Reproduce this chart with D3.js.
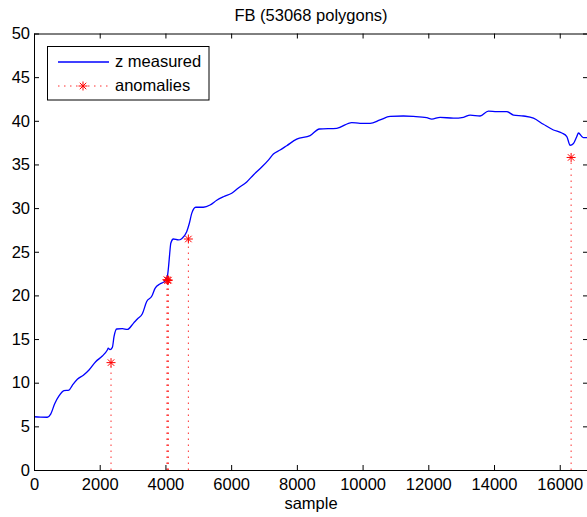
<!DOCTYPE html>
<html>
<head>
<meta charset="utf-8">
<script src="https://cdn.jsdelivr.net/npm/d3@7"></script>
<style>
  body { margin: 0; background: #fff; }
  svg { display: block; font-family: 'Liberation Sans', Arial, Helvetica, sans-serif; }
</style>
</head>
<body>
<div id="chart"></div>
<script>
// z measured
const sampleX = [0, 200, 405, 508, 630, 761, 913, 1065, 1167, 1319, 1502, 1674, 1877, 2080,
  2232, 2260, 2313, 2385, 2435, 2516, 2690, 2842, 3024, 3146, 3298, 3430, 3583, 3684, 3830,
  3937, 4000, 4060, 4100, 4130, 4165, 4241, 4393, 4495, 4647, 4728, 4800, 4922, 5155, 5358,
  5561, 5764, 6017, 6220, 6474, 6677, 6931, 7133, 7285, 7489, 7692, 7996, 8402, 8685, 9214,
  9670, 9923, 10228, 10532, 10837, 11241, 11546, 11952, 12105, 12359, 12764, 13069, 13272,
  13576, 13829, 14084, 14389, 14592, 14896, 15200, 15504, 15808, 16063, 16215, 16316, 16418,
  16520, 16571, 16672, 16723, 16900];
const zMeasured = [6.1, 6.05, 6.04, 6.4, 7.6, 8.5, 9.1, 9.16, 9.7, 10.4, 10.85, 11.45, 12.4, 13.06,
  13.75, 13.95, 13.8, 14.05, 15.27, 16.15, 16.2, 16.1, 16.8, 17.3, 17.9, 19.3, 19.9, 20.8, 21.3,
  21.5, 21.7, 22.2, 23.5, 24.8, 26.0, 26.46, 26.35, 26.5, 27.3, 28.26, 29.4, 30.1, 30.1, 30.35,
  30.9, 31.3, 31.7, 32.3, 33.0, 33.8, 34.7, 35.5, 36.2, 36.65, 37.15, 37.9, 38.3, 39.06, 39.14,
  39.8, 39.7, 39.7, 40.1, 40.5, 40.55, 40.5, 40.36, 40.2, 40.4, 40.3, 40.4, 40.66,
  40.55, 41.1, 41.05, 41.05, 40.66, 40.55, 40.3, 39.6, 38.95, 38.6, 38.2, 37.2, 37.4,
  38.2, 38.6, 38.2, 38.07, 38.07];

// anomalies
const anomalyX = [2344, 4045, 4068, 4090, 4698, 16346];
const anomalyZ = [12.3, 21.8, 21.7, 21.75, 26.46, 35.8];

const xTicks = [0, 2000, 4000, 6000, 8000, 10000, 12000, 14000, 16000];
const yTicks = [0, 5, 10, 15, 20, 25, 30, 35, 40, 45, 50];

const width = 587, height = 517;
const plotLeft = 34, plotRight = 588, plotTop = 33.5, plotBottom = 470;

const svg = d3.select('#chart').append('svg')
  .attr('width', width)
  .attr('height', height);

const x = d3.scaleLinear().domain([0, 16860]).range([plotLeft, plotRight]);
const y = d3.scaleLinear().domain([0, 50]).range([plotBottom, plotTop]);

const fontSize = '16.5px';

// clip to plot box
svg.append('clipPath').attr('id', 'clip')
  .append('rect')
  .attr('x', plotLeft).attr('y', plotTop)
  .attr('width', plotRight - plotLeft).attr('height', plotBottom - plotTop);

const plot = svg.append('g').attr('clip-path', 'url(#clip)');

// stems for anomalies
plot.selectAll('.stem')
  .data(anomalyX)
  .enter()
  .append('line')
  .attr('class', 'stem')
  .attr('x1', d => x(d))
  .attr('x2', d => x(d))
  .attr('y1', y(0))
  .attr('y2', (d, i) => y(anomalyZ[i]))
  .style('stroke', '#ff3030')
  .style('stroke-width', 1)
  .style('stroke-dasharray', '1.5,4.5');

// measured curve
const line = d3.line()
  .x(d => x(d[0]))
  .y(d => y(d[1]))
  .curve(d3.curveMonotoneX);

plot.append('path')
  .datum(sampleX.map((s, i) => [s, zMeasured[i]]))
  .attr('d', line)
  .style('fill', 'none')
  .style('stroke', '#0000ff')
  .style('stroke-width', 1.3);

// asterisk marker like matlab '*'
function star(sel, r) {
  const d = r * 0.72;
  sel.append('path')
    .attr('d', `M${-r},0H${r}M0,${-r}V${r}M${-d},${-d}L${d},${d}M${-d},${d}L${d},${-d}`)
    .style('stroke', '#ff0000')
    .style('stroke-width', 1)
    .style('fill', 'none');
}

plot.selectAll('.marker')
  .data(anomalyX)
  .enter()
  .append('g')
  .attr('class', 'marker')
  .attr('transform', (d, i) => `translate(${x(d)},${y(anomalyZ[i])})`)
  .each(function () { star(d3.select(this), 4.5); });

// axes, ticks pointing inward
const axisStyle = g => {
  g.select('.domain').style('stroke', '#000').style('stroke-width', 1);
  g.selectAll('.tick line').style('stroke', '#000');
  g.selectAll('text').style('font-size', fontSize).style('fill', '#000')
    .style('font-family', "'Liberation Sans', Arial, Helvetica, sans-serif");
};

svg.append('g')
  .attr('transform', `translate(0,${plotBottom})`)
  .call(d3.axisBottom(x).tickValues(xTicks).tickFormat(d3.format('d'))
    .tickSize(-5).tickSizeOuter(0).tickPadding(8))
  .call(axisStyle);

svg.append('g')
  .attr('transform', `translate(0,${plotTop})`)
  .call(d3.axisTop(x).tickValues(xTicks).tickSize(-5).tickSizeOuter(0).tickFormat(''))
  .call(axisStyle);

svg.append('g')
  .attr('transform', `translate(${plotLeft},0)`)
  .call(d3.axisLeft(y).tickValues(yTicks).tickFormat(d3.format('d'))
    .tickSize(-5).tickSizeOuter(0).tickPadding(4))
  .call(axisStyle);

svg.append('g')
  .attr('transform', `translate(${plotRight},0)`)
  .call(d3.axisRight(y).tickValues(yTicks).tickSize(-5).tickSizeOuter(0).tickFormat(''))
  .call(axisStyle);

// title and label
svg.append('text')
  .attr('x', (plotLeft + plotRight) / 2)
  .attr('y', 21)
  .attr('text-anchor', 'middle')
  .style('font-size', fontSize)
  .text('FB (53068 polygons)');

svg.append('text')
  .attr('x', (plotLeft + plotRight) / 2)
  .attr('y', 509)
  .attr('text-anchor', 'middle')
  .style('font-size', fontSize)
  .text('sample');

// legend
const legend = svg.append('g');
legend.append('rect')
  .attr('x', 47.5).attr('y', 46.5)
  .attr('width', 161.5).attr('height', 53.5)
  .style('fill', '#fff')
  .style('stroke', '#000')
  .style('stroke-width', 1);

legend.append('line')
  .attr('x1', 58).attr('x2', 109)
  .attr('y1', 62).attr('y2', 62)
  .style('stroke', '#0000ff')
  .style('stroke-width', 1.3);

legend.append('line')
  .attr('x1', 58).attr('x2', 109)
  .attr('y1', 86).attr('y2', 86)
  .style('stroke', '#ff3030')
  .style('stroke-dasharray', '1.5,4.5');

legend.append('g')
  .attr('transform', 'translate(83,86)')
  .call(star, 4.5);

legend.selectAll('.ltext')
  .data(['z measured', 'anomalies'])
  .enter()
  .append('text')
  .attr('x', 115)
  .attr('y', (d, i) => 67 + i * 24)
  .style('font-size', fontSize)
  .text(d => d);
</script>
</body>
</html>
